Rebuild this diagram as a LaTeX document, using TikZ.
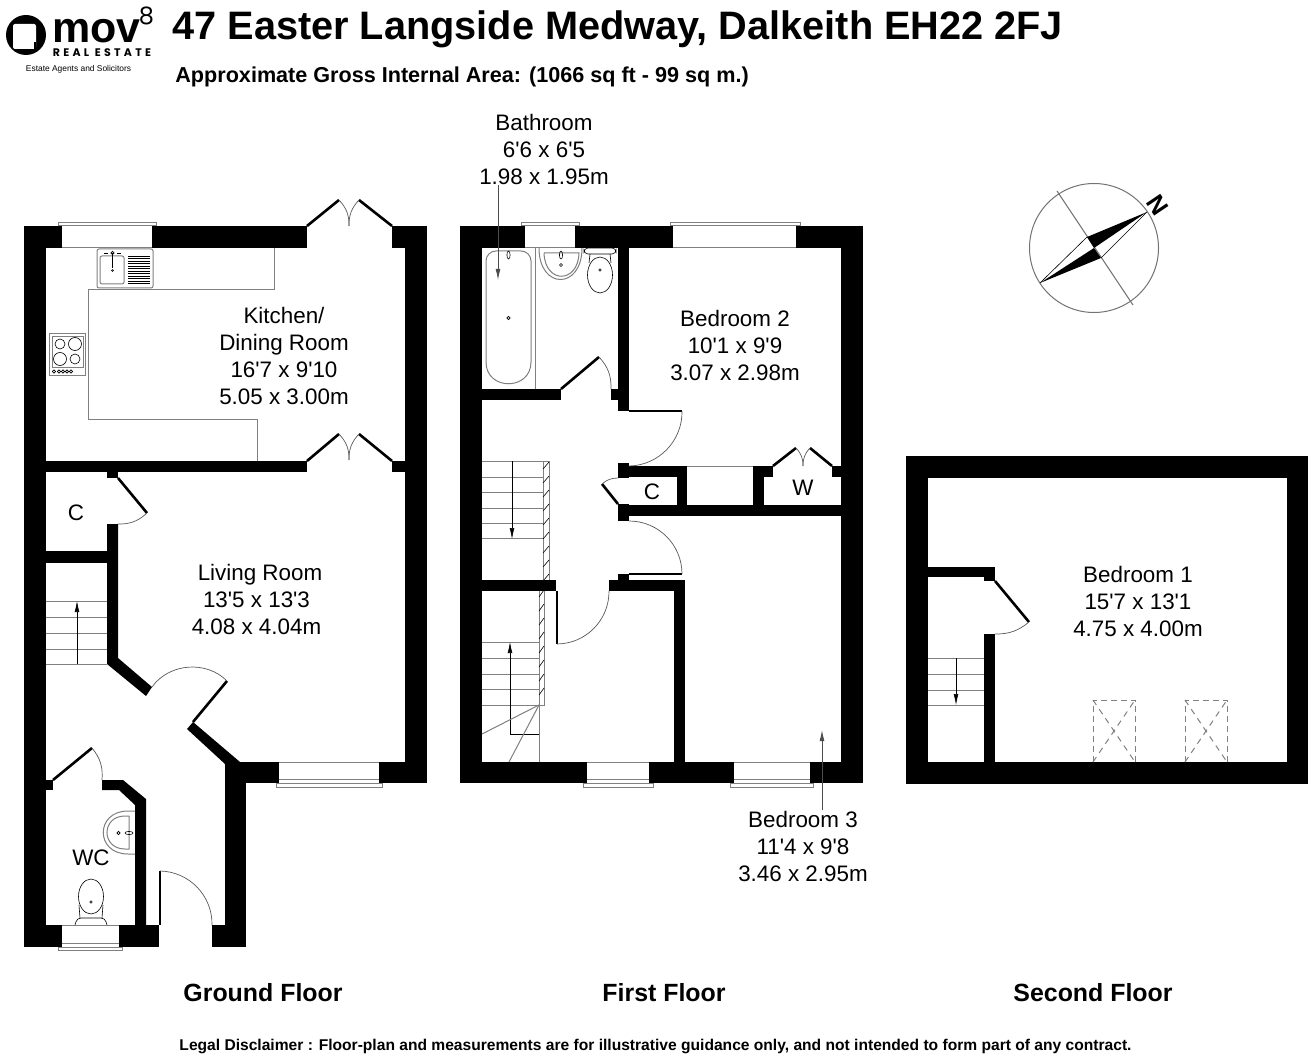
\documentclass[tikz,border=0pt]{standalone}
\usepackage{fontspec}
\usepackage{tikz}
\usetikzlibrary{arrows.meta}
\newfontfamily\labelfont{Liberation Sans}
\newfontfamily\logofont{Poppins}
\newfontfamily\logospaced[LetterSpace=30]{Poppins}

\begin{document}
\begin{tikzpicture}[x=0.5pt, y=-0.5pt, >={Latex[length=5.5pt,width=2.4pt]},
    fixture/.style={draw=black!50, line width=0.5pt},
    fine/.style={draw=black, line width=0.3pt},
    leaf/.style={draw=black, line width=1.3pt},
    arcline/.style={draw=black!65, line width=0.35pt},
    leader/.style={draw=black!70, line width=0.4pt, ->},
    roomlabel/.style={font=\labelfont\fontsize{11.2}{13.5}\selectfont, align=center, inner sep=0pt},
    floorlabel/.style={font=\labelfont\bfseries\fontsize{12.45}{15}\selectfont, inner sep=0pt}]
  \useasboundingbox [fill=white] (0,0) rectangle (1312,1064);

  % logo
  \fill (26,35) circle [radius=20];
  \fill [white, rounded corners=1pt] (13,24) -- (36,24) -- (36,49) -- (13,49) -- cycle;
  \fill (34,42) rectangle (36,49);
  \node (logomov) at (52,43) [anchor=base west, font=\labelfont\bfseries\fontsize{21.5}{22}\selectfont, inner sep=0pt] {mov};
  \node (logoeight) at (146.5,15.5) [font=\logofont\fontsize{12}{13}\selectfont, inner sep=0pt] {8};
  \node (logoreal) at (102,52.5) [font=\logospaced\bfseries\fontsize{5.5}{6}\selectfont, inner sep=0pt] {REAL ESTATE};
  \node (logosub) at (78.5,69) [font=\labelfont\fontsize{4.2}{5}\selectfont, inner sep=0pt] {Estate Agents and Solicitors};

  % titles
  \node (title) at (172,29) [anchor=west, font=\labelfont\bfseries\fontsize{19.85}{21}\selectfont, inner sep=0pt] {47 Easter Langside Medway, Dalkeith EH22 2FJ};
  \node (subtitle) at (175,76.5) [anchor=west, font=\labelfont\bfseries\fontsize{10.8}{12}\selectfont, inner sep=0pt] {Approximate Gross Internal Area: (1066 sq ft - 99 sq m.)};

  % ground floor walls
  \foreach \a/\b/\c/\d in {24/226/62/248, 152/226/307/248, 392/226/427/248, 24/226/46/947,
      405/226/427/783, 46/461/307/472, 392/461/405/472, 107/472/118/478, 46/551/107/563,
      379/762/427/783, 240/762/279/783, 225/763/246/947, 212/925/246/947, 24/925/62/947,
      119/925/159/947, 46/780/53/790}
    \fill (\a,\b) rectangle (\c,\d);
  \fill (107,524) -- (118,524) -- (118,658) -- (152,687) -- (146,696) -- (107,664) -- cycle;
  \fill (193,722) -- (240,762) -- (240,764) -- (225,764) -- (187,729) -- cycle;
  \fill (102,780) -- (123,780) -- (146,799) -- (146,925) -- (135,925) -- (135,805) -- (119,790) -- (102,790) -- cycle;

  % ground floor doors
  \draw [leaf] (307,226) -- (339,200);
  \draw [leaf] (392,226) -- (359,200);
  \draw [arcline] (339,200) to [bend left=22] (349,226);
  \draw [arcline] (359,200) to [bend right=22] (349,226);
  \draw [leaf] (307,461) -- (339,434);
  \draw [leaf] (392,461) -- (359,434);
  \draw [arcline] (339,434) to [bend left=22] (349,460);
  \draw [arcline] (359,434) to [bend right=22] (349,460);
  \draw [leaf] (118,478) -- (147,513);
  \draw [arcline] (147,513) to [bend left=22] (118,524);
  \draw [leaf] (193,722) -- (227,681);
  \draw [arcline] (227,681) to [bend right=50] (152,687);
  \draw [leaf] (53,780) -- (92,748);
  \draw [arcline] (92,748) to [bend left=22] (102,780);
  \draw [leaf] (160,871) -- (160,925);
  \draw [arcline] (160,871) to [bend left=45] (212,925);

  % ground floor windows
  \draw [fixture] (58.5,223) rectangle (156,226);
  \draw [fixture] (62,248) -- (152,248);
  \draw [fixture] (276,783) rectangle (382,787);
  \draw [fixture] (279,762) -- (379,762);
  \draw [fixture] (279,779) -- (379,779);
  \draw [fixture] (58,947) rectangle (122,950);
  \draw [fixture] (62,925) -- (119,925);
  \draw [fixture] (62,943) -- (119,943);

  % ground floor stairs
  \foreach \y in {601,617,633,649,664}
    \draw [fixture] (46,\y) -- (107,\y);
  \draw [fine, ->] (77,664) -- (77,601);

  % kitchen
  \draw [fixture] (274,248) -- (274,290) -- (88,290) -- (88,419) -- (257,419) -- (257,461);
  \draw [fixture, fill=white, rounded corners=1pt] (97,249) rectangle (153,288);
  \draw [fixture, rounded corners=1pt] (100,256) rectangle (124,284);
  \foreach \y in {256,258.5,...,284}
    \draw [fine] (128,\y) -- (150,\y);
  \draw [fine] (112.5,253) -- (112.5,268);
  \draw [fine] (112.5,253) circle [radius=1.6];
  \draw [fine] (112.5,270.5) circle [radius=1];
  \draw [fine] (104,253) -- (108,253);
  \draw [fine] (117,253) -- (121,253);
  \draw [fixture] (49,334) rectangle (85,375);
  \draw [fixture] (52,337) rectangle (83,367);
  \draw [fine] (60,344) circle [radius=5];
  \draw [fine] (75,344) circle [radius=6.5];
  \draw [fine] (60,359) circle [radius=6.5];
  \draw [fine] (75,359) circle [radius=5];
  \foreach \x in {54,59,63,67,71}
    \draw [fine] (\x,371.5) circle [radius=1.6];

  % wc fittings
  \draw [fixture] (135,811) -- (128,811) .. controls (95,811) and (95,854) .. (128,854) -- (135,854);
  \draw [fixture] (129,816) -- (125,816) .. controls (101,816) and (101,849) .. (125,849) -- (129,849) -- cycle;
  \draw [fine] (118.5,833) circle [radius=1.6];
  \draw [fine] (129,833) ellipse [x radius=4, y radius=1.6];
  \draw [fine] (91,896.5) ellipse [x radius=12.5, y radius=17.5];
  \draw [fine] (91,902) circle [radius=1.2];
  \draw [fine] (79,905) -- (80,918);
  \draw [fine] (103,905) -- (102,918);
  \draw [fine, rounded corners=2pt] (75,925) -- (77,918) -- (105,918) -- (107,925);

  % first floor walls
  \foreach \a/\b/\c/\d in {460/226/525/248, 575/226/673/248, 796/226/863/248, 460/226/482/783,
      841/226/863/783, 618/248/629/411, 482/389/561/400, 611/389/618/400, 618/463/629/478,
      629/466/687/477, 677/477/687/505, 753/466/773/477, 753/477/764/505, 832/466/841/477,
      618/504/629/521, 629/505/841/516, 618/574/629/580, 482/580/556/591, 609/580/685/591,
      674/591/685/762, 482/762/587/783, 649/762/734/783, 810/762/841/783}
    \fill (\a,\b) rectangle (\c,\d);

  % first floor doors
  \draw [leaf] (561,389) -- (599,357);
  \draw [arcline] (599,357) to [bend left=22] (611,389);
  \draw [leaf] (629,411) -- (682,411);
  \draw [arcline] (682,411) to [bend left=45] (629,466);
  \draw [leaf] (618,504) -- (602,484);
  \draw [arcline] (602,484) to [bend left=20] (618,478);
  \draw [leaf] (629,574) -- (682,574);
  \draw [arcline] (629,521) to [bend left=45] (682,574);
  \draw [leaf] (557,591) -- (557,644);
  \draw [arcline] (557,644) to [bend right=45] (609,591);
  \draw [leaf] (773,466) -- (796,448);
  \draw [leaf] (832,466) -- (810,448);
  \draw [arcline] (796,448) to [bend left=22] (803,466);
  \draw [arcline] (810,448) to [bend right=22] (803,466);

  % first floor windows
  \draw [fixture] (521,223) rectangle (579,226);
  \draw [fixture] (525,248) -- (575,248);
  \draw [fixture] (670,223) rectangle (800,226);
  \draw [fixture] (673,248) -- (796,248);
  \draw [fixture] (583,783) rectangle (653,787);
  \draw [fixture] (587,762) -- (649,762);
  \draw [fixture] (587,779) -- (649,779);
  \draw [fixture] (730,783) rectangle (813,787);
  \draw [fixture] (734,762) -- (810,762);
  \draw [fixture] (734,779) -- (810,779);
  \draw [fixture] (687,466) -- (753,466);

  % first floor stairs
  \foreach \y in {461,477,492,508,523,538}
    \draw [fixture] (482,\y) -- (543,\y);
  \draw [fine, ->] (512,461) -- (512,539);
  \draw [fixture] (543,461) -- (543,580);
  \draw [fixture] (549,461) -- (549,580);
  \draw [fixture] (543,461) -- (549,461);
  \foreach \y in {469,483,...,581}
    \draw [fine] (549,\y-7) -- (543,\y);
  \foreach \y in {642,658,674,689,705}
    \draw [fixture] (482,\y) -- (539,\y);
  \draw [fixture] (539,591) -- (539,762);
  \draw [fixture] (544,591) -- (544,705) -- (539,705);
  \foreach \y in {597,611,...,705}
    \draw [fine] (544,\y-7) -- (539,\y);
  \draw [fine, ->] (539,734) -- (510,734) -- (510,642);
  \draw [fixture] (539,705) -- (482,734);
  \draw [fixture] (539,705) -- (509,762);

  % bathroom
  \draw [fixture, rounded corners=5pt] (486,362) -- (486,251) -- (531,251) -- (531,362);
  \draw [fixture] (486,362) .. controls (486,391) and (531,391) .. (531,362);
  \draw [fixture] (535.5,248) -- (535.5,389);
  \draw [fine] (508.5,318) circle [radius=1.6];
  \draw [fine] (508.5,255) ellipse [x radius=1.6, y radius=4];
  \draw [fixture] (539,248) .. controls (539,290) and (582,290) .. (582,248);
  \draw [fixture] (544,253) -- (579,253) .. controls (578,284) and (545,284) .. (544,253);
  \draw [fine] (561,255) ellipse [x radius=1.6, y radius=4];
  \draw [fine] (561,265) circle [radius=1.5];
  \draw [fine] (600,275) ellipse [x radius=12.5, y radius=18];
  \draw [fine] (600,270) circle [radius=1.2];
  \draw [fine, rounded corners=2pt] (584,248) rectangle (616,254);
  \draw [fine] (590,254) -- (589,263);
  \draw [fine] (610,254) -- (611,263);

  % second floor walls
  \foreach \a/\b/\c/\d in {906/456/1308/478, 906/762/1308/784, 906/456/928/784, 1287/456/1308/784,
      928/567/995/577, 984/577/995/581, 984/634/995/762}
    \fill (\a,\b) rectangle (\c,\d);
  \draw [leaf] (995,581) -- (1029,622);
  \draw [arcline] (1029,622) to [bend left=20] (995,634);
  \foreach \y in {658,674,690,705}
    \draw [fixture] (928,\y) -- (984,\y);
  \draw [fine, ->] (956,658) -- (956,705);

  % roof windows
  \foreach \x in {1093,1185} {
    \draw [fixture, dashed, dash pattern=on 3pt off 2pt] (\x,762) -- (\x,700) -- (\x+42,700) -- (\x+42,762);
    \draw [fixture, dashed, dash pattern=on 3pt off 2.5pt] (\x,762) -- (\x+42,700);
    \draw [fixture, dashed, dash pattern=on 3pt off 2.5pt] (\x,700) -- (\x+42,762);
  }

  % compass
  \draw [draw=black!55, line width=0.5pt] (1094,248) circle [radius=64.5];
  \draw [draw=black!55, line width=0.5pt] (1057,191) -- (1133,305);
  \draw [fine] (1040,283) -- (1087,237);
  \draw [fine] (1147,212) -- (1101,258);
  \fill (1147,212) -- (1087,237) -- (1094,248) -- cycle;
  \fill (1040,283) -- (1101,258) -- (1094,248) -- cycle;
  \node (north) at (1158,205) [rotate=-56, font=\labelfont\bfseries\fontsize{12.5}{14}\selectfont, inner sep=0pt] {N};

  % room labels
  \node (kitchen) at (284,356) [roomlabel] {Kitchen/\\Dining Room\\16'7 x 9'10\\5.05 x 3.00m};
  \node (living) at (256.5,599) [roomlabel] {\hspace*{3.5pt}Living Room\\13'5 x 13'3\\4.08 x 4.04m};
  \node (cupboardg) at (76,513) [roomlabel] {C};
  \node (wc) at (91,858) [roomlabel] {WC};
  \node (bathroom) at (544,149) [roomlabel] {Bathroom\\6'6 x 6'5\\1.98 x 1.95m};
  \node (bedtwo) at (735,345) [roomlabel] {Bedroom 2\\10'1 x 9'9\\3.07 x 2.98m};
  \node (cupboardf) at (652,492) [roomlabel] {C};
  \node (wardrobe) at (803,488) [roomlabel] {W};
  \node (bedthree) at (803,846) [roomlabel] {Bedroom 3\\11'4 x 9'8\\3.46 x 2.95m};
  \node (bedone) at (1138,601) [roomlabel] {Bedroom 1\\15'7 x 13'1\\4.75 x 4.00m};

  % leaders
  \coordinate (bathtip) at (498,280);
  \coordinate (bedtip) at (822,730);
  \draw [leader] (bathroom.south -| bathtip) -- (bathtip);
  \draw [leader] (bedthree.north -| bedtip) -- (bedtip);

  % floor names
  \node (groundname) at (263,993) [floorlabel] {Ground Floor};
  \node (firstname) at (664,993) [floorlabel] {First Floor};
  \node (secondname) at (1093,993) [floorlabel] {Second Floor};
  \node (disclaimer) at (655.5,1046.5) [font=\labelfont\bfseries\fontsize{7.8}{10}\selectfont, inner sep=0pt] {Legal Disclaimer : Floor-plan and measurements are for illustrative guidance only, and not intended to form part of any contract.};
\end{tikzpicture}
\end{document}
